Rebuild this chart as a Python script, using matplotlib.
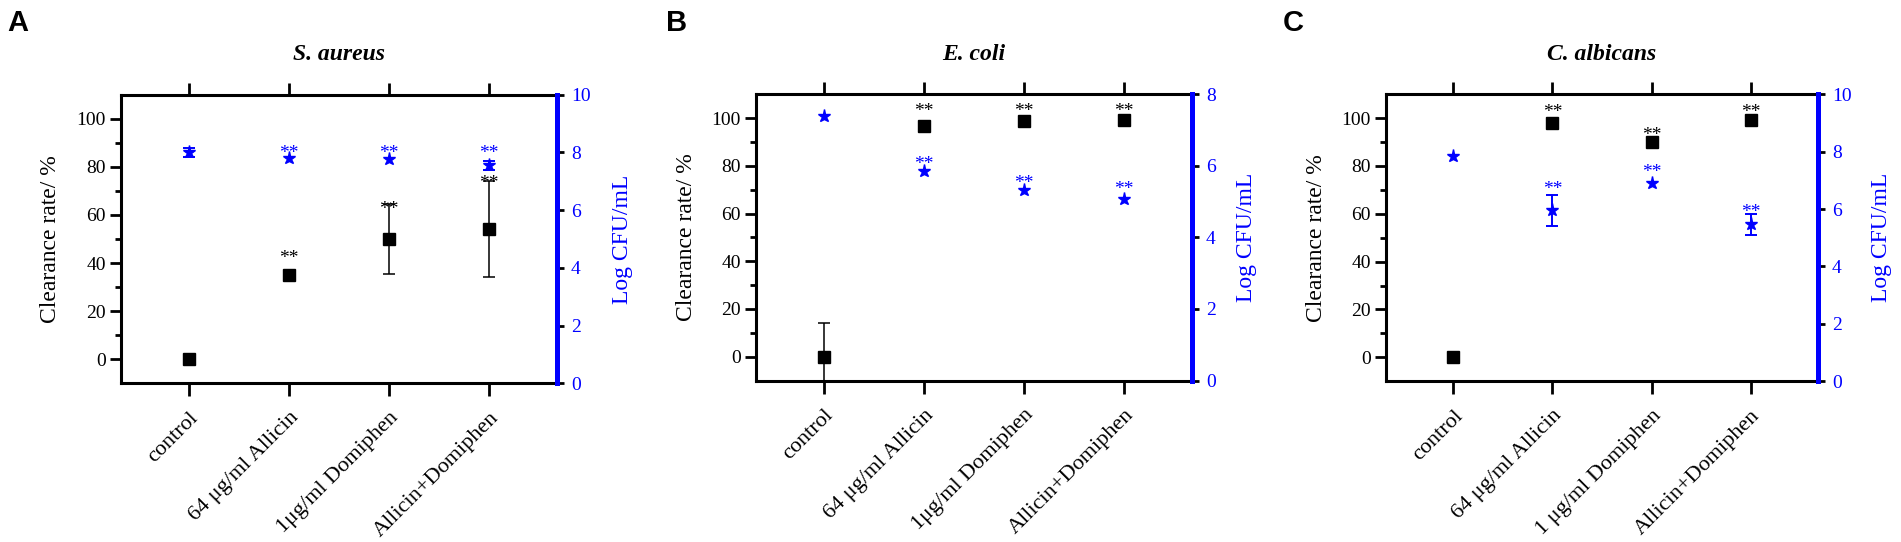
import matplotlib
matplotlib.use('Agg')
import matplotlib.pyplot as plt
import numpy as np
from matplotlib.ticker import FixedLocator

plt.rcParams['font.family'] = ['Liberation Serif', 'DejaVu Serif']

# ---------------- data ----------------
titles = ['S. aureus', 'E. coli', 'C. albicans']
panel_letters = ['A', 'B', 'C']
labels_A = ['control', '64 μg/ml Allicin', '1μg/ml Domiphen', 'Allicin+Domiphen']
labels_B = ['control', '64 μg/ml Allicin', '1μg/ml Domiphen', 'Allicin+Domiphen']
labels_C = ['control', '64 μg/ml Allicin', '1 μg/ml Domiphen', 'Allicin+Domiphen']

clear_A = [0, 35, 50, 54]
clear_err_A = [0, 0, 14.5, 20]
clear_star_A = [np.nan, 44, 64.5, 75]
log_A = [8.0, 7.82, 7.77, 7.56]
log_err_A = [0.15, 0, 0, 0.16]
log_star_A = [np.nan, 8.13, 8.13, 8.13]

clear_B = [0, 96.9, 98.9, 99.3]
clear_err_B = [14, 0, 0, 0]
clear_star_B = [np.nan, 104.7, 104.7, 104.7]
log_B = [7.38, 5.87, 5.33, 5.08]
log_err_B = [0, 0, 0, 0]
log_star_B = [np.nan, 6.17, 5.65, 5.48]

clear_C = [0, 98.1, 90, 99.3]
clear_err_C = [0, 0, 0, 0]
clear_star_C = [np.nan, 104.3, 95, 104.3]
log_C = [7.86, 5.96, 6.89, 5.46]
log_err_C = [0, 0.54, 0, 0.38]
log_star_C = [np.nan, 6.86, 7.44, 6.06]

log_max = [10, 8, 10]

panels = [
    (labels_A, clear_A, clear_err_A, clear_star_A, log_A, log_err_A, log_star_A),
    (labels_B, clear_B, clear_err_B, clear_star_B, log_B, log_err_B, log_star_B),
    (labels_C, clear_C, clear_err_C, clear_star_C, log_C, log_err_C, log_star_C),
]

# ---------------- layout ----------------
W, H = 1901, 542
fig = plt.figure(figsize=(W / 100, H / 100), dpi=100)
lefts = [121, 756, 1386]
rights = [557, 1192, 1818]
tops = [94.7, 94.3, 94.2]
bots = [383.3, 380.5, 381.2]
right_label_off = [65, 54, 63]
letter_x = [17.5, 677, 1293]
BLUE = '#0000ff'


def add_stars(ax, xs, ys, color):
    for xi, yi in zip(xs, ys):
        if np.isnan(yi):
            continue
        ax.annotate('**', xy=(xi, yi), xytext=(0, -6.8), textcoords='offset points',
                    ha='center', va='baseline', fontsize=14, color=color)


for i, (labels, clr, clr_err, clr_star, lg, lg_err, lg_star) in enumerate(panels):
    axw = rights[i] - lefts[i]
    axh = bots[i] - tops[i]
    ax = fig.add_axes([lefts[i] / W, 1 - bots[i] / H, axw / W, axh / H])
    x = np.arange(len(labels))
    clr = np.array(clr, float)
    clr_err = np.array(clr_err, float)
    lg = np.array(lg, float)
    lg_err = np.array(lg_err, float)

    # left axis: clearance rate
    ax.plot(x, clr, ls='none', marker='s', ms=9, color='black', zorder=3)
    m = clr_err > 0
    if m.any():
        ax.errorbar(x[m], clr[m], yerr=clr_err[m], fmt='none', ecolor='black',
                    elinewidth=1.1, capsize=4.3, capthick=1.1, zorder=2)
    add_stars(ax, x, clr_star, 'black')

    ax.set_xlim(-0.68, 3.68)
    ax.set_ylim(-10, 110)
    ax.set_yticks(np.arange(0, 101, 20))
    ax.yaxis.set_minor_locator(FixedLocator([10, 30, 50, 70, 90]))
    ax.set_xticks(x)
    ax.set_xticklabels(labels, rotation=45, ha='right', va='top', rotation_mode='anchor')

    ax.tick_params(axis='x', which='major', top=True, bottom=True, direction='out',
                   length=9, width=2, labelsize=16, pad=9)
    ax.tick_params(axis='y', which='major', direction='out', length=8, width=2,
                   labelsize=14, pad=3)
    ax.tick_params(axis='y', which='minor', direction='out', length=4.5, width=2)

    for s in ['left', 'top', 'bottom']:
        ax.spines[s].set_linewidth(2.2)
    ax.spines['right'].set_visible(False)

    ax.set_ylabel('Clearance rate/ %', fontsize=17, va='center', ha='center')
    ax.yaxis.set_label_coords(-70 / axw, 0.5)

    ax.text(0.5, 1 + 40 / axh, titles[i], transform=ax.transAxes, ha='center', va='center',
            fontsize=17, fontweight='bold', fontstyle='italic')

    # right axis: log CFU
    ax2 = ax.twinx()
    ax2.plot(x, lg, ls='none', marker='*', ms=9.5, color=BLUE, zorder=3)
    m2 = lg_err > 0
    if m2.any():
        ax2.errorbar(x[m2], lg[m2], yerr=lg_err[m2], fmt='none', ecolor=BLUE,
                     elinewidth=1.4, capsize=4, capthick=1.4, zorder=2)
    add_stars(ax2, x, lg_star, BLUE)
    ax2.set_ylim(0, log_max[i])
    ax2.set_yticks(np.arange(0, log_max[i] + 1, 2))
    ax2.tick_params(axis='y', colors='black', labelcolor=BLUE, length=5, width=2,
                    labelsize=14, pad=5)
    for s in ['left', 'top', 'bottom']:
        ax2.spines[s].set_visible(False)
    ax2.spines['right'].set_color(BLUE)
    ax2.spines['right'].set_linewidth(3.6)
    ax2.set_ylabel('Log CFU/mL', fontsize=17, color=BLUE, va='center', ha='center',
                   rotation=90)
    ax2.yaxis.set_label_coords(1 + right_label_off[i] / axw, 0.5)

    fig.text(letter_x[i] / W, 1 - 31 / H, panel_letters[i], fontfamily='Liberation Sans',
             fontweight='bold', fontsize=21, ha='center', va='baseline')

fig.savefig('out.png', dpi=100)
